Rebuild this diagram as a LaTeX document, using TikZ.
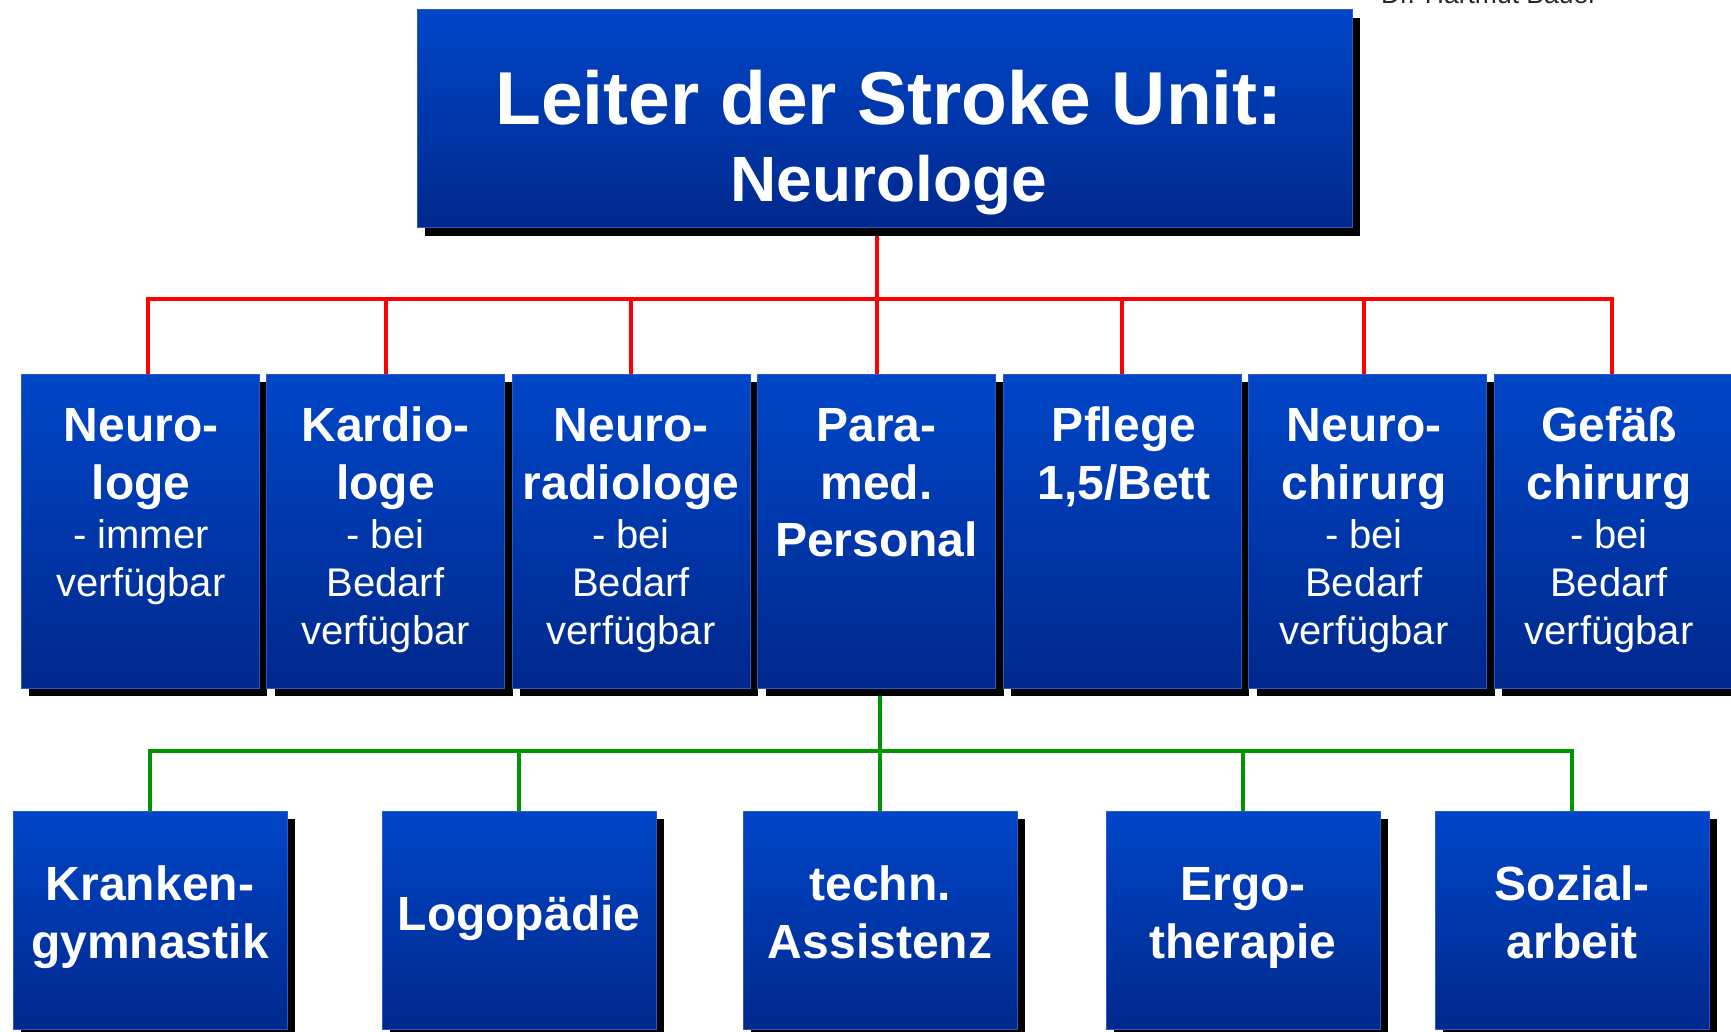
\documentclass[tikz,border=0pt]{standalone}
\usepackage{fontspec}
\setmainfont{Liberation Sans}
\usetikzlibrary{shadows,backgrounds}
\definecolor{boxtop}{RGB}{0,70,200}
\definecolor{boxbot}{RGB}{0,40,140}
\definecolor{boxedge}{RGB}{45,90,200}
\definecolor{lnred}{RGB}{255,0,0}
\definecolor{lngreen}{RGB}{0,150,0}
\newcommand{\tfnt}{\fontsize{48}{48}\selectfont\bfseries}
\newcommand{\fstrut}{\rule{0pt}{40pt}}
\begin{document}
\begin{tikzpicture}[x=1pt,y=-1pt,
  bluebox/.style={rectangle, inner sep=0pt, outer sep=0pt, anchor=north west,
    top color=boxtop, bottom color=boxbot, draw=boxedge, line width=1pt,
    drop shadow={shadow xshift=8pt, shadow yshift=-8pt, opacity=1, fill=black}},
  midbox/.style={bluebox, minimum width=238pt, minimum height=314pt},
  lowbox/.style={bluebox, minimum width=274pt, minimum height=218pt},
  boxtext/.style={anchor=north, inner sep=0pt, align=center, text=white,
    font=\fontsize{40}{48}\selectfont},
  lowtext/.style={anchor=north, inner sep=0pt, align=center, text=white,
    font=\fontsize{48}{58}\selectfont\bfseries},
  redln/.style={draw=lnred, line width=4pt},
  greenln/.style={draw=lngreen, line width=4pt}]
\path[use as bounding box] (0,0) rectangle (1731,1032);

% top box
\node[bluebox, minimum width=935pt, minimum height=218pt] (top) at (417,10) {};
\node[boxtext, font=\fontsize{64}{77}\selectfont\bfseries] (toptext) at (889,64)
  {{\fontsize{75}{77}\selectfont\rule{0pt}{60pt}Leiter der Stroke Unit:}\\Neurologe};

% middle row
\node[midbox] (m1) at (21,374) {};
\node[midbox] (m2) at (266.5,374) {};
\node[midbox] (m3) at (512,374) {};
\node[midbox] (m4) at (757.5,374) {};
\node[midbox] (m5) at (1003,374) {};
\node[midbox] (m6) at (1248.5,374) {};
\node[midbox] (m7) at (1494,374) {};

\node[boxtext] (t1) at (141,401.6) {{\tfnt\fstrut Neuro-}\\[9.4pt]{\tfnt loge}\\[1.7pt]- immer\\verfügbar};
\node[boxtext] (t2) at (385.5,401.6) {{\tfnt\fstrut Kardio-}\\[9.4pt]{\tfnt loge}\\[1.7pt]- bei\\Bedarf\\verfügbar};
\node[boxtext] (t3) at (631,401.6) {{\tfnt\fstrut Neuro-}\\[9.4pt]{\tfnt radiologe}\\[1.7pt]- bei\\Bedarf\\verfügbar};
\node[boxtext] (t4) at (876.5,401.6) {{\tfnt\fstrut Para-}\\[9.4pt]{\tfnt med.}\\[9.4pt]{\tfnt Personal}};
\node[boxtext] (t5) at (1124,401.6) {{\tfnt\fstrut Pflege}\\[9.4pt]{\tfnt 1,5/Bett}};
\node[boxtext] (t6) at (1364,401.6) {{\tfnt\fstrut Neuro-}\\[9.4pt]{\tfnt chirurg}\\[1.7pt]- bei\\Bedarf\\verfügbar};
\node[boxtext] (t7) at (1609,401.6) {{\tfnt\fstrut Gefäß}\\[9.4pt]{\tfnt chirurg}\\[1.7pt]- bei\\Bedarf\\verfügbar};

% bottom row
\node[lowbox] (b1) at (13,811) {};
\node[lowbox] (b2) at (382,811) {};
\node[lowbox] (b3) at (743,811) {};
\node[lowbox] (b4) at (1106,811) {};
\node[lowbox] (b5) at (1435,811) {};

\node[lowtext] (u1) at (150,860) {\fstrut Kranken-\\gymnastik};
\node[lowtext] (u2) at (519,890) {\fstrut Logopädie};
\node[lowtext] (u3) at (880,860) {\fstrut techn.\\Assistenz};
\node[lowtext] (u4) at (1243,860) {\fstrut Ergo-\\therapie};
\node[lowtext] (u5) at (1572,860) {\fstrut Sozial-\\arbeit};

% author (cut off at the top edge, as in the original)
\node[anchor=base west, inner sep=0pt, font=\fontsize{26.5}{30}\selectfont, text=black!85] (author) at (1381,3.5) {Dr. Hartmut Bauer};

\coordinate (rbus) at (0,299);
\coordinate (gbus) at (0,751);
% drop points on the middle boxes
\coordinate (d1) at ([xshift=8pt]m1.north);
\coordinate (d2) at (m2.north);
\coordinate (d3) at (m3.north);
\coordinate (d4) at (m4.north);
\coordinate (d5) at (m5.north);
\coordinate (d6) at ([xshift=-4pt]m6.north);
\coordinate (d7) at ([xshift=-1pt]m7.north);

\begin{pgfonlayer}{background}
\fill[white] (0,0) rectangle (1731,1032);
\draw[redln] (top.south -| d4) -- (d4);
\draw[redln] (d1) -- (d1 |- rbus) -- (d7 |- rbus) -- (d7);
\foreach \k in {2,3,5,6} { \draw[redln] (d\k |- rbus) -- (d\k); }
\draw[greenln] (m4.south -| b3.north) -- (b3.north);
\draw[greenln] (b1.north) -- (b1.north |- gbus) -- (b5.north |- gbus) -- (b5.north);
\foreach \k in {2,4} { \draw[greenln] (b\k.north |- gbus) -- (b\k.north); }
\end{pgfonlayer}
\end{tikzpicture}
\end{document}
